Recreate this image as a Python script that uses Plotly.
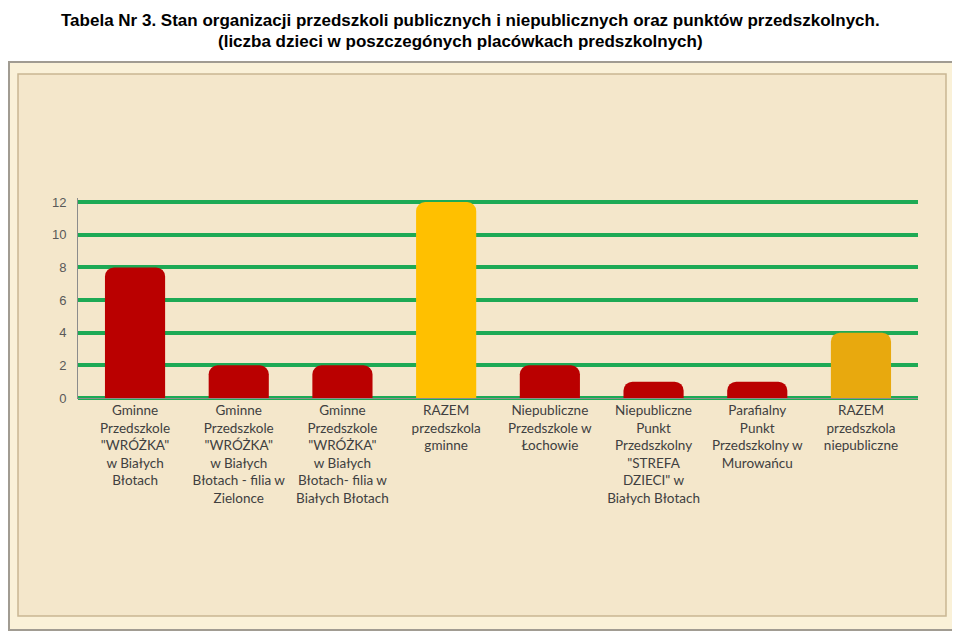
import plotly.graph_objects as go

categories = [
    'Gminne<br>Przedszkole<br>"WRÓŻKA"<br>w Białych<br>Błotach',
    'Gminne<br>Przedszkole<br>"WRÓŻKA"<br>w Białych<br>Błotach - filia w<br>Zielonce',
    'Gminne<br>Przedszkole<br>"WRÓŻKA"<br>w Białych<br>Błotach- filia w<br>Białych Błotach',
    'RAZEM<br>przedszkola<br>gminne',
    'Niepubliczne<br>Przedszkole w<br>Łochowie',
    'Niepubliczne<br>Punkt<br>Przedszkolny<br>"STREFA<br>DZIECI" w<br>Białych Błotach',
    'Parafialny<br>Punkt<br>Przedszkolny w<br>Murowańcu',
    'RAZEM<br>przedszkola<br>niepubliczne',
]
values = [8, 2, 2, 12, 2, 1, 1, 4]
bar_colors = ['#BA0000', '#BA0000', '#BA0000', '#FFC000',
              '#BA0000', '#BA0000', '#BA0000', '#E8A90E']
y_ticks = [0, 2, 4, 6, 8, 10, 12]

# page body adds an 8px margin, so the figure is sized to fit the window
OFF = 8
W, H = 960 - OFF, 635 - OFF
L, R, T, B = 70, 42, 190, 237
PW, PH = W - L - R, H - T - B


def px(x):  # screen pixel -> paper
    return (x - OFF - L) / PW


def py(y):
    return (H - B - (y - OFF)) / PH


fig = go.Figure()
fig.add_trace(go.Bar(
    x=list(range(len(categories))),
    y=values,
    width=0.58,
    marker=dict(color=bar_colors, line=dict(width=0), cornerradius=9),
    hoverinfo='y',
))

shapes = [
    dict(type='rect', xref='paper', yref='paper', layer='below',
         x0=px(9), x1=px(955), y0=py(630), y1=py(62),
         fillcolor='#FAF1D8', line=dict(color='#A19C92', width=2)),
    dict(type='rect', xref='paper', yref='paper', layer='below',
         x0=px(18), x1=px(946), y0=py(616), y1=py(74),
         fillcolor='#F4E7CB', line=dict(color='#C9B793', width=1.5)),
]

fig.update_layout(
    width=W, height=H,
    margin=dict(l=L, r=R, t=T, b=B),
    paper_bgcolor='white',
    plot_bgcolor='rgba(0,0,0,0)',
    showlegend=False,
    shapes=shapes,
    annotations=[
        dict(text='<b>Tabela Nr 3. Stan organizacji przedszkoli publicznych i niepublicznych oraz punktów przedszkolnych.</b>',
             xref='paper', yref='paper', x=px(470), y=py(9), showarrow=False,
             xanchor='center', yanchor='top',
             font=dict(family='Liberation Sans', size=17, color='black')),
        dict(text='<b>(liczba dzieci w poszczegónych placówkach predszkolnych)</b>',
             xref='paper', yref='paper', x=px(460), y=py(30), showarrow=False,
             xanchor='center', yanchor='top',
             font=dict(family='Liberation Sans', size=17, color='black')),
    ],
    xaxis=dict(
        tickmode='array', tickvals=list(range(len(categories))), ticktext=categories,
        tickangle=0, range=[-0.55, len(categories) - 0.45],
        showgrid=False, zeroline=False, showline=True, linecolor='#8C8C8C', linewidth=1,
        tickfont=dict(family='Lato', size=13.5, color='#404040'),
        ticks='',
    ),
    yaxis=dict(
        range=[0, 12.25], tickmode='array', tickvals=y_ticks,
        showgrid=True, gridcolor='#1DAA55', gridwidth=3.5,
        zeroline=True, zerolinecolor='#1DAA55', zerolinewidth=3.5,
        showline=True, linecolor='#8C8C8C', linewidth=1,
        tickfont=dict(family='Liberation Sans', size=13, color='#595959'),
        ticks='', ticklabelstandoff=8,
    ),
)

fig.write_html('out.html')
